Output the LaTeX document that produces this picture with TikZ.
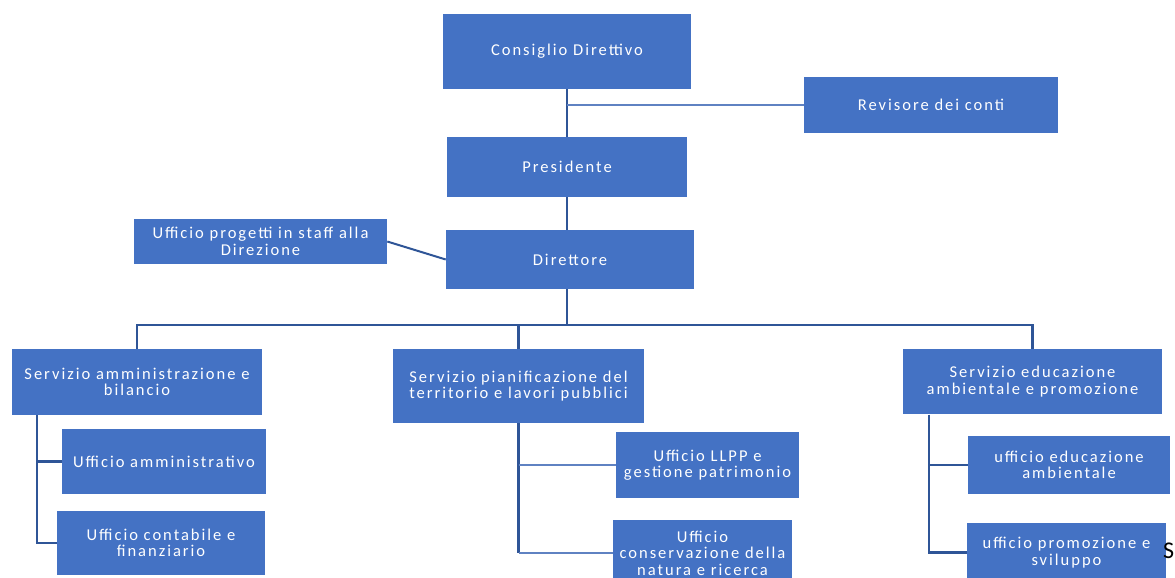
\documentclass[tikz,border=0pt]{standalone}
\usepackage{fontspec}
\setmainfont{Carlito}[LetterSpace=12]
\newfontfamily\strayfont{Carlito}
\definecolor{boxfill}{HTML}{4472C4}
\definecolor{linedark}{HTML}{2F5597}
\definecolor{linelight}{HTML}{5F82C2}
\begin{document}
\begin{tikzpicture}[x=0.75pt,y=-0.75pt,
  box/.style={fill=boxfill, draw=none, text=white, align=center, inner sep=2pt,
    font=\fontsize{12.4}{12.4}\selectfont},
  mainline/.style={draw=linedark, line width=2.2pt},
  subline/.style={draw=linelight, line width=1.5pt},
  stray/.style={text=black, inner sep=0pt, font=\strayfont\fontsize{18}{18}\selectfont}]
\useasboundingbox (0,0) rectangle (1175,578);
% boxes
\node[box, minimum width=186pt, minimum height=56.25pt] (cons) at (567,51.5) {Consiglio Direttivo};
\node[box, minimum width=190.5pt, minimum height=42pt] (rev) at (931,105) {Revisore dei conti};
\node[box, minimum width=180pt, minimum height=45pt] (pres) at (567,167) {Presidente};
\node[box, minimum width=186pt, minimum height=44.25pt] (dir) at (570,259.5) {Direttore};
\node[box, minimum width=189.75pt, minimum height=33.75pt] (staff) at (260.5,241.5) {Ufficio progetti in staff alla\\Direzione};
\node[box, minimum width=187.5pt, minimum height=49.5pt] (s1) at (137,382) {Servizio amministrazione e\\bilancio};
\node[box, minimum width=188.25pt, minimum height=55.5pt] (s2) at (518.5,386) {Servizio pianificazione del\\territorio e lavori pubblici};
\node[box, minimum width=194.25pt, minimum height=48.75pt] (s3) at (1032.5,381.5) {Servizio educazione\\ambientale e promozione};
\node[box, minimum width=153pt, minimum height=48.75pt] (u1a) at (164,461.5) {Ufficio amministrativo};
\node[box, minimum width=156pt, minimum height=48pt] (u1b) at (161,543) {Ufficio contabile e\\finanziario};
\node[box, minimum width=137.25pt, minimum height=49.5pt] (u2a) at (707.5,465) {Ufficio LLPP e\\gestione patrimonio};
\node[box, minimum width=134.25pt, minimum height=49.5pt] (u2b) at (702.5,553) {Ufficio\\conservazione della\\natura e ricerca};
\node[box, minimum width=151.5pt, minimum height=43.5pt] (u3a) at (1069,465) {ufficio educazione\\ambientale};
\node[box, minimum width=149.25pt, minimum height=44.25pt] (u3b) at (1066.5,552.5) {ufficio promozione e\\sviluppo};
\node[stray, anchor=east] (strayS) at (1174.5,551) {S};
% helper coordinates
\coordinate (bus) at (567,325);
\coordinate (c1) at (37,415);
\coordinate (c3) at (929,414.5);
% connectors
\draw[mainline] (cons.south) -- (pres.north);
\draw[subline] (cons.south |- rev.west) -- (rev.west);
\draw[mainline] (pres.south) -- (pres.south |- dir.north);
\draw[subline, draw=linedark] (staff.east) -- (dir.west);
\draw[mainline] (pres.south |- dir.south) -- (bus);
\draw[mainline] (s1.north) -- (s1.north |- bus) -- (s3.north |- bus) -- (s3.north);
\draw[mainline] (s2.north |- bus) -- (s2.north);
% left branch
\draw[mainline] (c1) |- (u1b.west);
\draw[mainline] (c1 |- u1a.west) -- (u1a.west);
% middle branch
\draw[mainline] (s2.south) -- (s2.south |- u2b.west);
\draw[subline] (s2.south |- u2a.west) -- (u2a.west);
\draw[subline] (s2.south |- u2b.west) -- (u2b.west);
% right branch
\draw[mainline] (c3) |- (u3b.west);
\draw[mainline] (c3 |- u3a.west) -- (u3a.west);
\end{tikzpicture}
\end{document}
